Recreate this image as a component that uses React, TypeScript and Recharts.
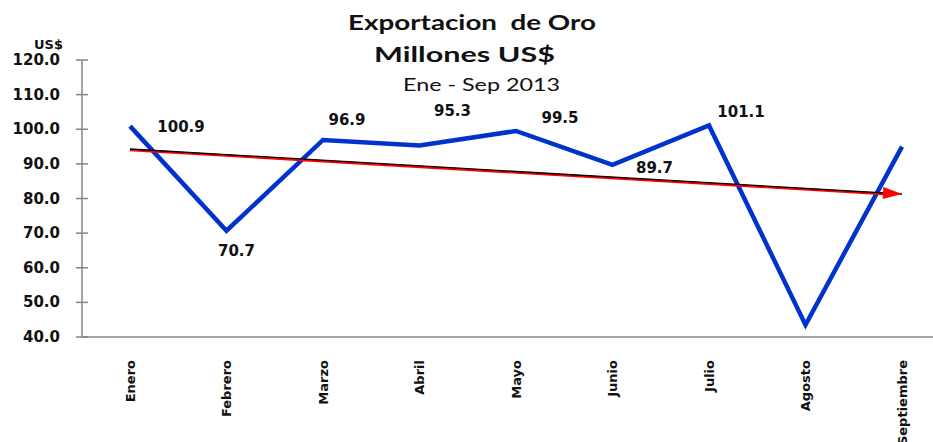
import { LineChart, Line, XAxis, YAxis, ReferenceLine, LabelList } from "recharts";

const months = [
  "Enero",
  "Febrero",
  "Marzo",
  "Abril",
  "Mayo",
  "Junio",
  "Julio",
  "Agosto",
  "Septiembre",
];
const goldExports = [100.9, 70.7, 96.9, 95.3, 99.5, 89.7, 101.1, 43.5, 95.0];
// Agosto and Septiembre have no value label in the original
const showLabel = [true, true, true, true, true, true, true, false, false];
const yTicks = [40, 50, 60, 70, 80, 90, 100, 110, 120];
const trendFrom = 94.3;
const trendTo = 81.3;

// label placement relative to the point (hand-moved in the source chart)
const labelOffsets: [number, number][] = [
  [51, 1],
  [10, 20],
  [24, -20],
  [33, -35],
  [44, -13],
  [42, 3],
  [32, -13],
  [0, 0],
  [0, 0],
];

const data = months.map((month, i) => ({ month, value: goldExports[i] }));

const FONT = "'DejaVu Sans', Verdana, sans-serif";
const AXIS = "#868686";

const YTick = ({ x, y, payload }: any) => (
  <g>
    <line x1={x + 16} x2={x + 28} y1={y} y2={y} stroke={AXIS} strokeWidth={1.5} />
    <text
      x={x}
      y={y}
      dy={5}
      textAnchor="end"
      fontFamily={FONT}
      fontWeight="bold"
      fontSize={15}
      fill="#111"
    >
      {Number(payload.value).toFixed(1)}
    </text>
  </g>
);

const XTick = ({ x, y, payload }: any) => (
  <text
    transform={`translate(${x}, ${y + 21}) rotate(-90)`}
    dy={4.5}
    textAnchor="end"
    fontFamily={FONT}
    fontWeight="bold"
    fontSize={13}
    fill="#111"
  >
    {payload.value}
  </text>
);

const ValueLabel = ({ x, y, value, index }: any) => {
  if (!showLabel[index]) return null;
  const [dx, dy] = labelOffsets[index];
  return (
    <text
      x={x + dx}
      y={y + dy}
      dy={5}
      textAnchor="middle"
      fontFamily={FONT}
      fontWeight="bold"
      fontSize={15}
      fill="#111"
    >
      {Number(value).toFixed(1)}
    </text>
  );
};

const TrendArrow = (props: any) => {
  const { x1, y1, x2, y2 } = props;
  const ang = Math.atan2(y2 - y1, x2 - x1);
  const cos = Math.cos(ang);
  const sin = Math.sin(ang);
  const len = 19;
  const half = 6;
  const bx = x2 - len * cos;
  const by = y2 - len * sin;
  const head = `${x2},${y2} ${bx - half * sin},${by + half * cos} ${bx + half * sin},${by - half * cos}`;
  return (
    <g>
      <line x1={x1} y1={y1 + 1} x2={bx} y2={by + 1} stroke="#ff0000" strokeWidth={2.5} />
      <line x1={x1} y1={y1} x2={x2} y2={y2} stroke="#000" strokeWidth={1.3} />
      <polygon points={head} fill="#ff0000" />
    </g>
  );
};

export default function App() {
  return (
    <div
      style={{
        position: "absolute",
        left: 0,
        top: 0,
        width: 933,
        height: 442,
        overflow: "hidden",
        background: "#fff",
      }}
    >
      <LineChart
        width={950}
        height={442}
        data={data}
        margin={{ top: 60, right: 0, bottom: 0, left: 0 }}
      >
        <XAxis
          dataKey="month"
          height={105}
          padding={{ left: 48, right: 48 }}
          axisLine={{ stroke: AXIS, strokeWidth: 1.5 }}
          tickLine={false}
          tickSize={0}
          tick={<XTick />}
          interval={0}
        />
        <YAxis
          width={82}
          domain={[40, 120]}
          ticks={yTicks}
          axisLine={{ stroke: AXIS, strokeWidth: 1.5 }}
          tickLine={false}
          tickSize={6}
          tickMargin={16}
          tick={<YTick />}
        />
        <Line
          type="linear"
          dataKey="value"
          stroke="#0033cc"
          strokeWidth={4.5}
          dot={false}
          strokeLinejoin="miter"
          isAnimationActive={false}
        >
          <LabelList dataKey="value" content={<ValueLabel />} />
        </Line>
        <ReferenceLine
          segment={[
            { x: months[0], y: trendFrom },
            { x: months[months.length - 1], y: trendTo },
          ]}
          shape={<TrendArrow />}
        />
      </LineChart>
      <svg
        width={933}
        height={442}
        style={{ position: "absolute", left: 0, top: 0, pointerEvents: "none" }}
      >
        <g fontFamily="Lato, 'Open Sans', sans-serif" fill="#111">
          <text x={348} y={30} fontSize={21} fontWeight="bold" textLength={248} lengthAdjust="spacingAndGlyphs">
            Exportacion&#160;&#160;de Oro
          </text>
          <text x={374} y={62} fontSize={21} fontWeight="bold" textLength={181} lengthAdjust="spacingAndGlyphs">
            Millones US$
          </text>
          <text x={403} y={91} fontSize={18} textLength={157} lengthAdjust="spacingAndGlyphs">
            Ene - Sep 2013
          </text>
        </g>
        <text
          x={63}
          y={49}
          textAnchor="end"
          fontFamily={FONT}
          fontWeight="bold"
          fontSize={13}
          fill="#111"
        >
          US$
        </text>
      </svg>
    </div>
  );
}
